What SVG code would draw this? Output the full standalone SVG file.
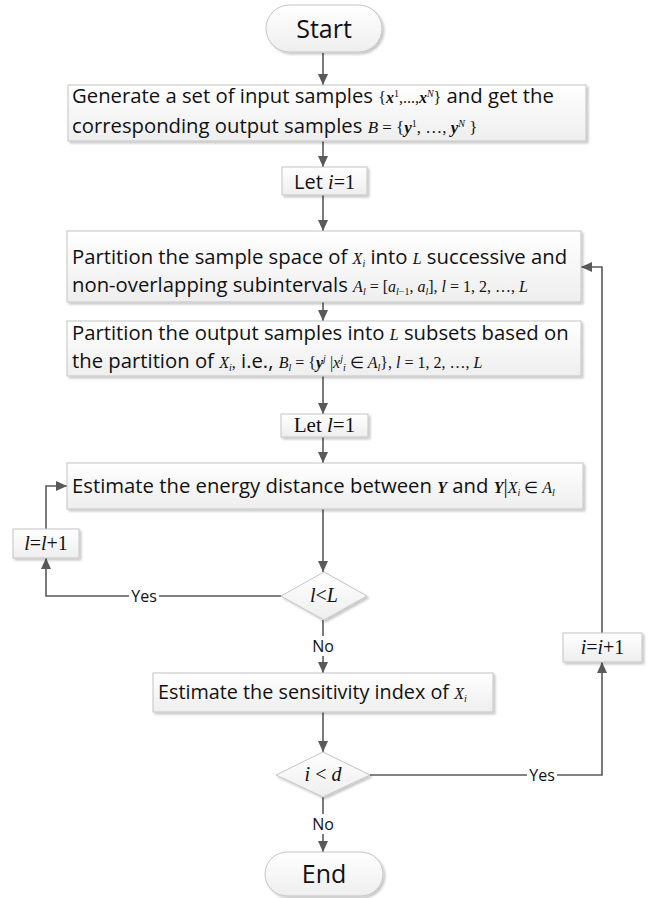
<svg xmlns="http://www.w3.org/2000/svg" width="648" height="898" viewBox="0 0 648 898">
  <defs>
    <linearGradient id="fillGrad" x1="0" y1="0" x2="0" y2="1">
      <stop offset="0" stop-color="#ffffff"/>
      <stop offset="1" stop-color="#eeeeee"/>
    </linearGradient>
    <filter id="shadow" x="-5%" y="-20%" width="115%" height="150%">
      <feDropShadow dx="2" dy="2" stdDeviation="1.2" flood-color="#000" flood-opacity="0.22"/>
    </filter>
    <marker id="arrow" markerUnits="userSpaceOnUse" markerWidth="12" markerHeight="10" refX="11" refY="5" orient="auto">
      <path d="M0,0 L11,5 L0,10 z" fill="#595959"/>
    </marker>
    <style>
      .box { fill: url(#fillGrad); stroke: #c4c4c4; stroke-width: 1; filter: url(#shadow); }
      .ln { fill: none; stroke: #595959; stroke-width: 1.6; }
      .arr { marker-end: url(#arrow); }
      .t { font-family: "Open Sans", "Liberation Sans", sans-serif; font-size: 20.3px; fill: #111; }
      .lbl { font-family: "Open Sans", "Liberation Sans", sans-serif; font-size: 16px; fill: #111; text-anchor: middle; }
      .term { font-family: "Open Sans", "Liberation Sans", sans-serif; font-size: 25px; fill: #111; text-anchor: middle; }
      .m { font-family: "Liberation Serif", "Times New Roman", serif; font-size: 16px; }
      .mi { font-family: "Liberation Serif", "Times New Roman", serif; font-style: italic; }
      .mb { font-family: "Liberation Serif", "Times New Roman", serif; font-style: italic; font-weight: bold; }
      .s { font-size: 10px; }
      .sm { font-family: "Liberation Serif", "Times New Roman", serif; font-size: 20px; fill: #111; text-anchor: middle; }
    </style>
  </defs>

  <!-- connectors -->
  <g id="connectors">
    <path class="ln arr" d="M323,53 V85"/>
    <path class="ln arr" d="M323,141 V167"/>
    <path class="ln arr" d="M323,195 V231"/>
    <path class="ln arr" d="M323,302 V321"/>
    <path class="ln arr" d="M323,376 V414"/>
    <path class="ln arr" d="M323,437 V463"/>
    <path class="ln arr" d="M323,509 V572"/>
    <path class="ln arr" d="M281,596 H46 V558"/>
    <path class="ln arr" d="M46,529 V486 H67"/>
    <path class="ln arr" d="M323,620 V673"/>
    <path class="ln arr" d="M323,712 V752"/>
    <path class="ln arr" d="M370,775 H602 V662"/>
    <path class="ln arr" d="M602,633 V267 H581"/>
    <path class="ln arr" d="M323,797 V852"/>
    <!-- branch labels -->
    <rect x="129" y="586" width="30" height="20" fill="#fff"/>
    <text class="lbl" x="144" y="602">Yes</text>
    <rect x="311" y="636" width="24" height="20" fill="#fff"/>
    <text class="lbl" x="323" y="652">No</text>
    <rect x="527" y="765" width="30" height="20" fill="#fff"/>
    <text class="lbl" x="542" y="781">Yes</text>
    <rect x="311" y="814" width="24" height="20" fill="#fff"/>
    <text class="lbl" x="323" y="830">No</text>
  </g>

  <g id="start">
    <rect class="box" x="266" y="5" width="116" height="47" rx="23.5"/>
    <text class="term" x="324" y="38">Start</text>
  </g>

  <g id="generate">
    <rect class="box" x="68" y="85" width="518" height="56"/>
    <text class="t" x="72" y="103">Generate a set of input samples <tspan class="m">{<tspan class="mb">x</tspan><tspan class="s" dy="-6">1</tspan><tspan dy="6">,...,</tspan><tspan class="mb">x</tspan><tspan class="s mi" dy="-6">N</tspan><tspan dy="6">}</tspan></tspan> and get the</text>
    <text class="t" x="72" y="133">corresponding output samples <tspan class="m" style="font-size:17px"><tspan class="mi">B</tspan> = {<tspan class="mb">y</tspan><tspan class="s" dy="-6">1</tspan><tspan dy="6">, …, </tspan><tspan class="mb">y</tspan><tspan class="s mi" dy="-6">N</tspan><tspan dy="6"> }</tspan></tspan></text>
  </g>

  <g id="let-i">
    <rect class="box" x="282" y="167" width="85" height="28"/>
    <text class="t" x="324.5" y="189" text-anchor="middle" style="font-size:20px">Let <tspan class="mi">i</tspan><tspan class="m" style="font-size:20px">=1</tspan></text>
  </g>

  <g id="partition-space">
    <rect class="box" x="67" y="231" width="514" height="71"/>
    <text class="t" x="72" y="264">Partition the sample space of <tspan class="m"><tspan class="mi">X</tspan><tspan class="s mi" dy="3">i</tspan></tspan><tspan dy="-3"> into </tspan><tspan class="m mi">L</tspan> successive and</text>
    <text class="t" x="72" y="292">non-overlapping subintervals <tspan class="m"><tspan class="mi">A</tspan><tspan class="s mi" dy="3">l</tspan><tspan dy="-3"> = [</tspan><tspan class="mi">a</tspan><tspan class="s" dy="3"><tspan class="mi">l</tspan>−1</tspan><tspan dy="-3">, </tspan><tspan class="mi">a</tspan><tspan class="s mi" dy="3">l</tspan><tspan dy="-3">],  </tspan><tspan class="mi">l</tspan> = 1, 2, …, <tspan class="mi">L</tspan></tspan></text>
  </g>

  <g id="partition-output">
    <rect class="box" x="67" y="321" width="514" height="55"/>
    <text class="t" x="72" y="340">Partition the output samples into <tspan class="m mi">L</tspan> subsets based on</text>
    <text class="t" x="72" y="368">the partition of <tspan class="m"><tspan class="mi">X</tspan><tspan class="s mi" dy="3">i</tspan><tspan dy="-3">,</tspan></tspan> i.e.,  <tspan class="m"><tspan class="mi">B</tspan><tspan class="s mi" dy="3">l</tspan><tspan dy="-3"> = {</tspan><tspan class="mb">y</tspan><tspan class="s mi" dy="-6">j</tspan><tspan dy="6"> |</tspan><tspan class="mi">x</tspan><tspan class="s mi" dy="-6">j</tspan><tspan class="s mi" dy="9">i</tspan><tspan dy="-3"> ∈ </tspan><tspan class="mi">A</tspan><tspan class="s mi" dy="3">l</tspan><tspan dy="-3">},  </tspan><tspan class="mi">l</tspan> = 1, 2, …, <tspan class="mi">L</tspan></tspan></text>
  </g>

  <g id="let-l">
    <rect class="box" x="281" y="414" width="87" height="23"/>
    <text class="sm" x="324.5" y="432" style="font-size:21px">Let <tspan class="mi">l</tspan>=1</text>
  </g>

  <g id="energy-distance">
    <rect class="box" x="67" y="463" width="516" height="46"/>
    <text class="t" x="72" y="493">Estimate the energy distance between <tspan class="m"><tspan class="mb">Y</tspan></tspan> and <tspan class="m"><tspan class="mb">Y</tspan><tspan style="font-size:21px">|</tspan><tspan class="mi">X</tspan><tspan class="s mi" dy="3">i</tspan><tspan dy="-3"> ∈ </tspan><tspan class="mi">A</tspan><tspan class="s mi" dy="3">l</tspan></tspan></text>
  </g>

  <g id="l-increment">
    <rect class="box" x="13" y="529" width="66" height="29"/>
    <text class="sm" x="46" y="550"><tspan class="mi">l</tspan>=<tspan class="mi">l</tspan>+1</text>
  </g>

  <g id="l-check">
    <polygon class="box" points="324,572 367,596 324,620 281,596"/>
    <text class="sm" x="324" y="602"><tspan class="mi">l</tspan>&lt;<tspan class="mi">L</tspan></text>
  </g>

  <g id="sensitivity">
    <rect class="box" x="153" y="673" width="340" height="39"/>
    <text class="t" x="158" y="699" style="font-size:19.8px">Estimate the sensitivity index of <tspan class="m"><tspan class="mi">X</tspan><tspan class="s mi" dy="3">i</tspan></tspan></text>
  </g>

  <g id="i-check">
    <polygon class="box" points="323,752 370,775 323,797 276,775"/>
    <text class="sm" x="323" y="781"><tspan class="mi">i</tspan> &lt; <tspan class="mi">d</tspan></text>
  </g>

  <g id="i-increment">
    <rect class="box" x="563" y="633" width="79" height="29"/>
    <text class="sm" x="602.5" y="654"><tspan class="mi">i</tspan>=<tspan class="mi">i</tspan>+1</text>
  </g>

  <g id="end">
    <rect class="box" x="265" y="852" width="118" height="44" rx="22"/>
    <text class="term" x="324" y="883">End</text>
  </g>
</svg>
